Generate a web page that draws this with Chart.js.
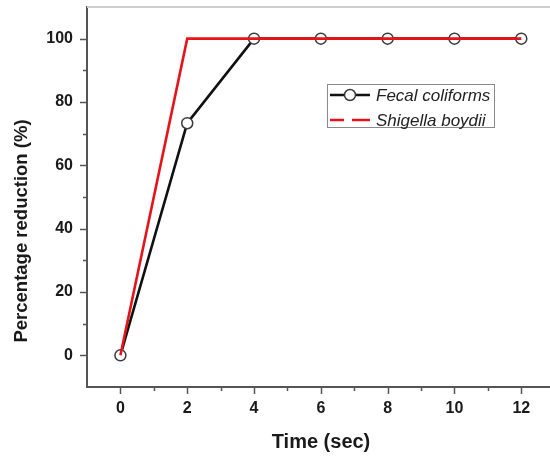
<!DOCTYPE html>
<html>
<head>
<meta charset="utf-8">
<script src="https://cdn.jsdelivr.net/npm/chart.js@4/dist/chart.umd.min.js"></script>
<style>
  html, body { margin: 0; padding: 0; background: #fff; }
  #wrap { width: 550px; height: 458px; }
</style>
</head>
<body>
<div id="wrap"><canvas id="reductionChart" width="550" height="458"></canvas></div>
<script>
// ==========================================
// 1. DATA
// ==========================================
const timeSec = [0, 2, 4, 6, 8, 10, 12];
const fecalColiforms = [0, 73.3, 100, 100, 100, 100, 100];
const shigellaBoydii = [0, 100, 100, 100, 100, 100, 100];
const seriesLabels = ['Fecal coliforms', 'Shigella boydii'];

const xTicks = [0, 2, 4, 6, 8, 10, 12];
const xMinorTicks = [1, 3, 5, 7, 9, 11];
const yTicks = [0, 20, 40, 60, 80, 100];
const yMinorTicks = [10, 30, 50, 70, 90];

const xTitle = 'Time (sec)';
const yTitle = 'Percentage reduction (%)';

const AXIS_COLOR = '#555';
const TEXT_COLOR = '#1a1a1a';
const FONT = '"Liberation Sans", Arial, sans-serif';

// ==========================================
// 2. PLUGINS: axis lines, tick marks, titles, legend
// ==========================================
const decorPlugin = {
  id: 'decor',
  afterDraw(chart) {
    const { ctx, chartArea: a, scales: { x, y } } = chart;
    const W = chart.width;
    ctx.save();
    const line = (x1, y1, x2, y2) => { ctx.beginPath(); ctx.moveTo(x1, y1); ctx.lineTo(x2, y2); ctx.stroke(); };

    // light frame line on top, axis runs off the right edge (figure is cropped)
    ctx.strokeStyle = '#cfcfcf';
    ctx.lineWidth = 2;
    line(a.left, a.top, W, a.top);
    ctx.strokeStyle = AXIS_COLOR;
    line(a.left - 1, a.bottom, W, a.bottom);

    // outward tick marks
    ctx.lineWidth = 1.5;
    xTicks.forEach(v => { const px = Math.round(x.getPixelForValue(v)) + 0.5; line(px, a.bottom, px, a.bottom + 7); });
    xMinorTicks.forEach(v => { const px = Math.round(x.getPixelForValue(v)) + 0.5; line(px, a.bottom, px, a.bottom + 4); });
    yTicks.forEach(v => { const py = Math.round(y.getPixelForValue(v)) + 0.5; line(a.left, py, a.left - 7, py); });
    yMinorTicks.forEach(v => { const py = Math.round(y.getPixelForValue(v)) + 0.5; line(a.left, py, a.left - 4, py); });

    // axis titles
    ctx.fillStyle = TEXT_COLOR;
    ctx.textAlign = 'center';
    ctx.textBaseline = 'middle';
    ctx.font = 'bold 20px ' + FONT;
    ctx.fillText(xTitle, 321, 442);
    ctx.save();
    ctx.translate(22, 231);
    ctx.rotate(-Math.PI / 2);
    ctx.font = 'bold 18.5px ' + FONT;
    ctx.fillText(yTitle, 0, 0);
    ctx.restore();

    // legend box
    ctx.strokeStyle = '#8a8a8a';
    ctx.lineWidth = 1;
    ctx.strokeRect(327.5, 84.5, 167, 43);

    const ds = chart.data.datasets;
    // row 1: black line with open circle
    ctx.strokeStyle = ds[0].borderColor;
    ctx.lineWidth = 2.5;
    line(330, 95, 370, 95);
    ctx.beginPath();
    ctx.arc(350, 95, 5.5, 0, Math.PI * 2);
    ctx.fillStyle = '#fff';
    ctx.fill();
    ctx.strokeStyle = ds[0].pointBorderColor;
    ctx.lineWidth = 1.5;
    ctx.stroke();
    // row 2: red dashed line
    ctx.strokeStyle = ds[1].borderColor;
    ctx.lineWidth = 2.5;
    line(330, 120, 344, 120);
    line(352, 120, 370, 120);

    ctx.fillStyle = '#222';
    ctx.textAlign = 'left';
    ctx.font = 'italic 17px ' + FONT;
    ctx.fillText(seriesLabels[0], 376, 96);
    ctx.fillText(seriesLabels[1], 376, 121);

    ctx.restore();
  }
};

// ==========================================
// 3. CHART
// ==========================================
new Chart(document.getElementById('reductionChart'), {
  type: 'line',
  data: {
    datasets: [
      {
        label: seriesLabels[0],
        data: timeSec.map((t, i) => ({ x: t, y: fecalColiforms[i] })),
        borderColor: '#111',
        borderWidth: 2.6,
        pointRadius: 5.5,
        pointBackgroundColor: '#fff',
        pointBorderColor: '#3a3a3a',
        pointBorderWidth: 1.5,
        tension: 0,
        order: 1,
        clip: false
      },
      {
        label: seriesLabels[1],
        data: timeSec.map((t, i) => ({ x: t, y: shigellaBoydii[i] })),
        borderColor: '#e5141b',
        borderWidth: 2.6,
        pointRadius: 0,
        tension: 0,
        order: 0,
        clip: false
      }
    ]
  },
  options: {
    responsive: false,
    animation: false,
    layout: { padding: { top: 6, right: 0, left: 0, bottom: 0 } },
    plugins: { legend: { display: false }, tooltip: { enabled: false } },
    scales: {
      x: {
        type: 'linear',
        min: -1,
        max: 12.65,
        afterFit: s => { s.height = 71; s.paddingLeft = 0; s.paddingRight = 0; },
        afterBuildTicks: s => { s.ticks = xTicks.map(v => ({ value: v })); },
        grid: { display: false, drawTicks: false },
        border: { display: false },
        ticks: { color: TEXT_COLOR, padding: 12, font: { family: FONT, size: 16, weight: 'bold' } }
      },
      y: {
        type: 'linear',
        min: -10,
        max: 110,
        afterFit: s => { s.width = 87; s.paddingTop = 0; s.paddingBottom = 0; },
        afterBuildTicks: s => { s.ticks = yTicks.map(v => ({ value: v })); },
        grid: { display: false, drawTicks: false },
        border: { display: true, color: AXIS_COLOR, width: 2 },
        ticks: { color: TEXT_COLOR, padding: 14, font: { family: FONT, size: 16, weight: 'bold' } }
      }
    }
  },
  plugins: [decorPlugin]
});
</script>
</body>
</html>
